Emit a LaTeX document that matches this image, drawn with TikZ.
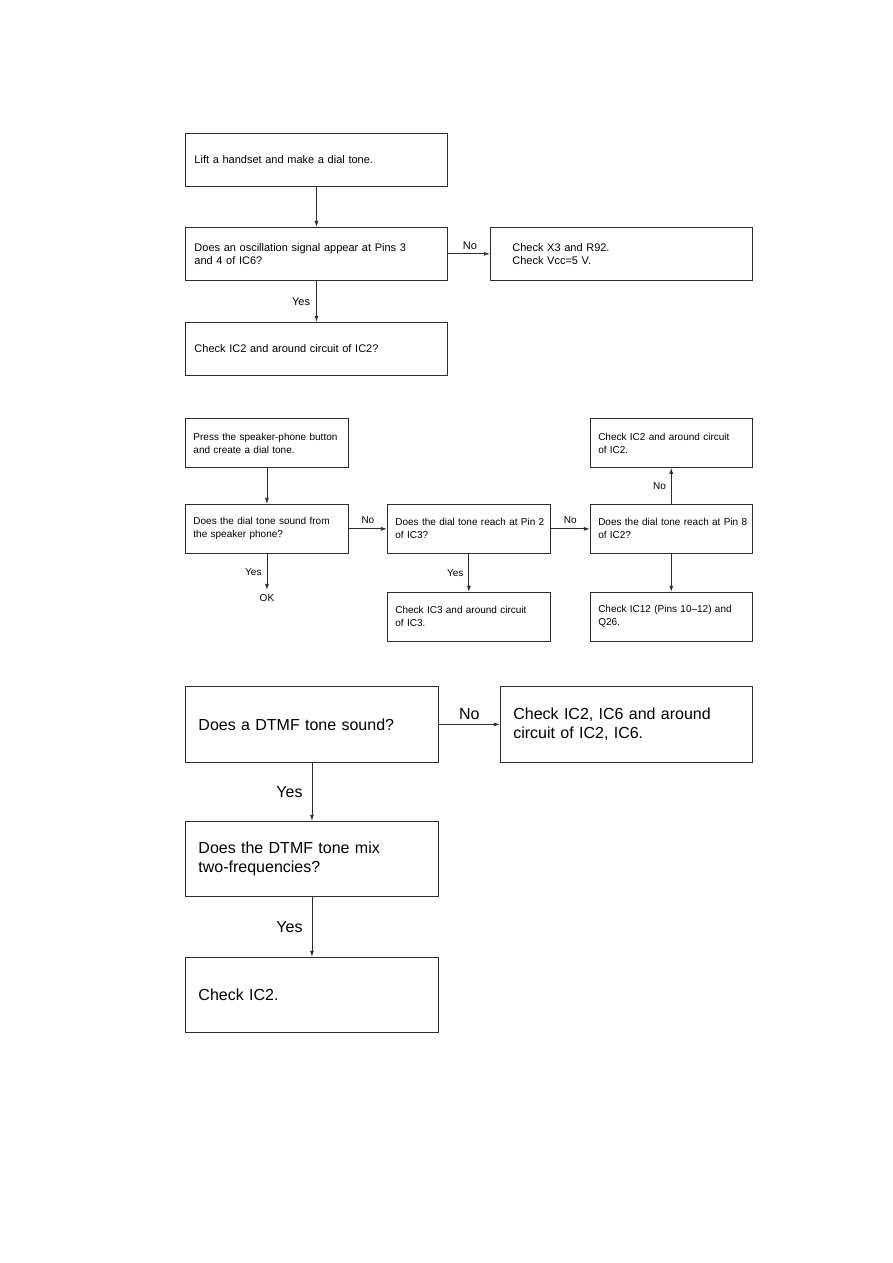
\documentclass[tikz,border=0pt]{standalone}
\usepackage{fontspec}
\setmainfont{Liberation Sans}
\usetikzlibrary{arrows.meta,positioning}
\definecolor{trait}{RGB}{45,45,45}
\tikzset{
  cadre/.style={rectangle, draw=trait, line width=0.9pt, align=left, inner ysep=2pt},
  blocA/.style={cadre, font=\fontsize{11}{13}\selectfont, inner xsep=9pt},
  blocB/.style={cadre, font=\fontsize{10}{13}\selectfont, inner xsep=8pt},
  blocC/.style={cadre, font=\fontsize{16}{19.5}\selectfont, inner xsep=13pt},
  arr/.style={-{Latex[length=6pt, width=4pt]}, line width=0.8pt, draw=trait},
  lab/.style={inner sep=4pt, font=\fontsize{#1}{13}\selectfont},
}
\begin{document}
\begin{tikzpicture}[x=1pt, y=-1pt]
\useasboundingbox (0,0) rectangle (893,1263);
% combiné
\node[blocA, text width=244pt, minimum height=53pt, anchor=north west] (lift) at (185,133) {Lift a handset and make a dial tone.};
\node[blocA, text width=244pt, minimum height=53pt, below=40pt of lift] (osc) {Does an oscillation signal appear at Pins 3\\and 4 of IC6?};
\node[blocA, text width=218pt, inner xsep=22pt, minimum height=53pt, right=42pt of osc] (xtal) {Check X3 and R92.\\Check Vcc=5 V.};
\node[blocA, text width=244pt, minimum height=53pt, below=41pt of osc] (ic2a) {Check IC2 and around circuit of IC2?};
\draw[arr] (lift) -- (osc);
\draw[arr] (osc) -- node[lab=11, above, xshift=1pt] (no1) {No} (xtal);
\draw[arr] (osc) -- node[lab=11, left, inner xsep=6pt] (yes1) {Yes} (ic2a);
% haut-parleur
\node[blocB, text width=147pt, minimum height=49pt, anchor=north west] (press) at (185,418) {Press the speaker-phone~button\\and create a dial tone.};
\node[blocB, text width=147pt, minimum height=49pt, below=36pt of press] (spk) {Does the dial tone sound from\\the speaker phone?};
\node[blocB, text width=147pt, minimum height=49pt, right=38pt of spk] (pin2) {Does~the~dial~tone~reach~at~Pin~2\\of IC3?};
\node[blocB, text width=146pt, minimum height=49pt, right=39pt of pin2] (pin8) {Does~the~dial~tone~reach~at~Pin~8\\of IC2?};
\node[blocB, text width=146pt, minimum height=49pt, above=36pt of pin8] (ic2b) {Check IC2 and around circuit\\of IC2.};
\node[blocB, text width=147pt, minimum height=49pt, below=38pt of pin2] (ic3) {Check IC3 and around circuit\\of IC3.};
\node[blocB, text width=146pt, minimum height=49pt, below=38pt of pin8] (ic12) {Check IC12 (Pins 10--12) and\\Q26.};
\node[lab=10, inner sep=5pt, below=36pt of spk] (ok) {OK};
\draw[arr] (press) -- (spk);
\draw[arr] (spk) -- node[lab=10, left, inner xsep=5pt] (yes2) {Yes} (ok);
\draw[arr] (spk) -- node[lab=10, above, inner ysep=5pt] (no2) {No} (pin2);
\draw[arr] (pin2) -- node[lab=10, above, inner ysep=5pt] (no3) {No} (pin8);
\draw[arr] (pin2) -- node[lab=10, left, inner xsep=5pt] (yes3) {Yes} (ic3);
\draw[arr] (pin8) -- node[lab=10, left, inner xsep=5pt] (no4) {No} (ic2b);
\draw[arr] (pin8) -- (ic12);
% DTMF
\node[blocC, text width=227pt, minimum height=76pt, anchor=north west] (dtmf) at (185,686) {Does a DTMF tone sound?};
\node[blocC, text width=226pt, minimum height=76pt, right=61pt of dtmf] (ic26) {Check IC2, IC6 and around\\circuit of IC2, IC6.};
\node[blocC, text width=227pt, minimum height=75pt, below=58pt of dtmf] (mix) {Does the DTMF tone mix\\two-frequencies?};
\node[blocC, text width=227pt, minimum height=75pt, below=60pt of mix] (ic2c) {Check IC2.};
\draw[arr] (dtmf) -- node[lab=16, above, inner ysep=4pt] (no5) {No} (ic26);
\draw[arr] (dtmf) -- node[lab=16, left, inner xsep=9pt] (yes4) {Yes} (mix);
\draw[arr] (mix) -- node[lab=16, left, inner xsep=9pt] (yes5) {Yes} (ic2c);
\end{tikzpicture}
\end{document}
